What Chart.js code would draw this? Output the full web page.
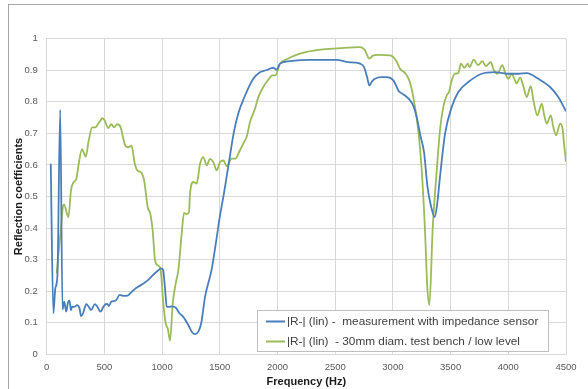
<!DOCTYPE html>
<html>
<head>
<meta charset="utf-8">
<script src="https://cdn.jsdelivr.net/npm/chart.js@4.4.1/dist/chart.umd.min.js"></script>
<style>
  body { margin: 0; background: #fff; }
  canvas { display: block; }
</style>
</head>
<body>
<canvas id="chart" width="588" height="389"></canvas>
<script>
// frequency (Hz) / |R-|
var sensorFreq = [35, 58, 75, 93, 117, 137, 152, 169, 185, 198, 210, 219, 240, 262, 285, 297, 315, 344, 365, 385, 417, 440, 466, 490, 510, 525, 539, 560, 598, 633, 665, 700, 743, 775, 802, 845, 880, 918, 960, 990, 1008, 1025, 1040, 1060, 1085, 1120, 1150, 1180, 1227, 1260, 1285, 1314, 1340, 1372, 1430, 1473, 1502, 1536, 1580, 1620, 1660, 1719, 1790, 1848, 1900, 1964, 1990, 2022, 2108, 2200, 2282, 2397, 2513, 2614, 2680, 2715, 2750, 2775, 2796, 2820, 2845, 2900, 2946, 3004, 3030, 3047, 3080, 3105, 3148, 3180, 3206, 3240, 3270, 3300, 3330, 3362, 3385, 3408, 3452, 3510, 3567, 3654, 3770, 3885, 3986, 4087, 4160, 4260, 4362, 4433, 4500];
var sensorR = [0.604, 0.13, 0.21, 0.25, 0.775, 0.142, 0.167, 0.135, 0.165, 0.17, 0.14, 0.15, 0.15, 0.156, 0.145, 0.121, 0.13, 0.159, 0.15, 0.14, 0.159, 0.15, 0.135, 0.15, 0.159, 0.16, 0.153, 0.167, 0.17, 0.188, 0.185, 0.186, 0.2, 0.21, 0.216, 0.226, 0.236, 0.25, 0.264, 0.272, 0.268, 0.21, 0.152, 0.15, 0.152, 0.147, 0.13, 0.12, 0.093, 0.07, 0.064, 0.072, 0.1, 0.182, 0.27, 0.37, 0.44, 0.51, 0.61, 0.7, 0.763, 0.82, 0.873, 0.894, 0.9, 0.908, 0.902, 0.921, 0.929, 0.932, 0.933, 0.933, 0.933, 0.926, 0.924, 0.921, 0.91, 0.88, 0.852, 0.865, 0.873, 0.878, 0.878, 0.868, 0.85, 0.836, 0.826, 0.82, 0.805, 0.785, 0.752, 0.69, 0.64, 0.53, 0.47, 0.435, 0.48, 0.562, 0.699, 0.784, 0.831, 0.863, 0.889, 0.894, 0.889, 0.889, 0.891, 0.873, 0.847, 0.815, 0.77];

var benchFreq = [87, 105, 122, 140, 152, 165, 180, 189, 210, 233, 257, 277, 306, 320, 338, 364, 394, 423, 443, 465, 481, 501, 533, 560, 583, 612, 641, 660, 676, 705, 735, 764, 787, 816, 845, 875, 898, 918, 939, 962, 985, 1011, 1031, 1050, 1069, 1092, 1118, 1141, 1170, 1190, 1213, 1233, 1242, 1271, 1300, 1329, 1357, 1387, 1415, 1444, 1473, 1502, 1531, 1560, 1603, 1637, 1667, 1704, 1733, 1762, 1805, 1834, 1877, 1920, 1955, 1983, 2022, 2094, 2152, 2253, 2397, 2542, 2715, 2740, 2758, 2796, 2830, 2874, 2975, 3027, 3062, 3105, 3142, 3177, 3220, 3250, 3278, 3298, 3316, 3345, 3380, 3408, 3437, 3466, 3486, 3510, 3538, 3567, 3590, 3619, 3648, 3665, 3700, 3738, 3775, 3805, 3848, 3875, 3905, 3948, 3975, 4001, 4030, 4050, 4073, 4102, 4130, 4160, 4194, 4220, 4252, 4290, 4310, 4333, 4368, 4390, 4414, 4449, 4470, 4485, 4500];
var benchR = [0.256, 0.33, 0.393, 0.466, 0.475, 0.46, 0.44, 0.435, 0.519, 0.545, 0.556, 0.603, 0.65, 0.64, 0.626, 0.677, 0.719, 0.719, 0.729, 0.74, 0.748, 0.742, 0.717, 0.729, 0.719, 0.729, 0.719, 0.69, 0.666, 0.656, 0.661, 0.603, 0.582, 0.577, 0.55, 0.466, 0.445, 0.393, 0.298, 0.282, 0.272, 0.16, 0.098, 0.08, 0.043, 0.16, 0.225, 0.267, 0.383, 0.448, 0.444, 0.45, 0.509, 0.546, 0.541, 0.604, 0.625, 0.599, 0.619, 0.609, 0.583, 0.609, 0.614, 0.596, 0.62, 0.62, 0.641, 0.668, 0.689, 0.736, 0.778, 0.815, 0.847, 0.87, 0.884, 0.884, 0.921, 0.937, 0.947, 0.958, 0.966, 0.97, 0.973, 0.97, 0.963, 0.937, 0.947, 0.949, 0.947, 0.931, 0.905, 0.891, 0.868, 0.815, 0.71, 0.583, 0.393, 0.214, 0.156, 0.4, 0.583, 0.71, 0.784, 0.82, 0.831, 0.868, 0.889, 0.891, 0.921, 0.908, 0.921, 0.91, 0.934, 0.916, 0.929, 0.913, 0.926, 0.9, 0.889, 0.916, 0.89, 0.873, 0.889, 0.875, 0.858, 0.877, 0.85, 0.815, 0.85, 0.8, 0.757, 0.794, 0.76, 0.731, 0.757, 0.72, 0.694, 0.731, 0.715, 0.66, 0.61];

var seriesNames = ['|R-| (lin) -  measurement with impedance sensor', '|R-| (lin)  - 30mm diam. test bench / low level'];
var xTickLabels = ['0', '500', '1000', '1500', '2000', '2500', '3000', '3500', '4000', '4500'];
var yTickLabels = ['0', '0.1', '0.2', '0.3', '0.4', '0.5', '0.6', '0.7', '0.8', '0.9', '1'];

function points(xs, ys) {
    var out = [];
    for (var i = 0; i < xs.length; i++) out.push({x: xs[i], y: ys[i]});
    return out;
}

var frame = {
    id: 'frame',
    beforeDraw: function(chart) {
        var c = chart.ctx;
        c.save();
        c.fillStyle = '#fff';
        c.fillRect(0, 0, chart.width, chart.height);
        c.strokeStyle = '#a6a6a6';
        c.lineWidth = 1;
        c.strokeRect(8.5, 4.5, 700, 500);
        c.restore();
    }
};

// legend box sits inside the plot, lower right
var boxLegend = {
    id: 'boxLegend',
    afterDraw: function(chart) {
        var c = chart.ctx;
        var x = 257.5, y = 310.5, w = 291, h = 41;
        c.save();
        c.fillStyle = '#fff';
        c.fillRect(x, y, w, h);
        c.strokeStyle = '#bfbfbf';
        c.lineWidth = 1;
        c.strokeRect(x, y, w, h);
        c.font = '11.8px "Liberation Sans", Arial, sans-serif';
        c.textBaseline = 'middle';
        chart.data.datasets.forEach(function(ds, i) {
            var ly = 321.5 + i * 20;
            c.strokeStyle = ds.borderColor;
            c.lineWidth = 2;
            c.beginPath();
            c.moveTo(266, ly);
            c.lineTo(285, ly);
            c.stroke();
            c.fillStyle = '#404040';
            c.fillText(ds.label, 287, ly + 0.5);
        });
        c.restore();
    }
};

var tickFont = {family: '"Liberation Sans", Arial, sans-serif', size: 9.5};
var titleFont = {family: '"Liberation Sans", Arial, sans-serif', size: 11, weight: 'bold'};

new Chart(document.getElementById('chart'), {
    type: 'line',
    data: {
        datasets: [{
            label: seriesNames[0],
            data: points(sensorFreq, sensorR),
            borderColor: '#4a7ebb',
            borderWidth: 1.8,
            pointRadius: 0,
            cubicInterpolationMode: 'monotone'
        }, {
            label: seriesNames[1],
            data: points(benchFreq, benchR),
            borderColor: '#9bbb59',
            borderWidth: 1.8,
            pointRadius: 0,
            cubicInterpolationMode: 'monotone'
        }]
    },
    options: {
        responsive: false,
        animation: false,
        layout: {padding: {left: 0, right: 22, top: 38.7, bottom: 0}},
        plugins: {legend: {display: false}, tooltip: {enabled: false}},
        scales: {
            x: {
                type: 'linear', min: 0, max: 4500,
                grid: {color: '#d9d9d9', drawTicks: false},
                border: {color: '#d9d9d9'},
                ticks: {
                    stepSize: 500, padding: 7, color: '#595959', font: tickFont, maxRotation: 0,
                    callback: function(v) { return xTickLabels[Math.round(v / 500)]; }
                },
                title: {display: true, text: 'Frequency (Hz)', color: '#1a1a1a', font: titleFont, padding: {top: 0, bottom: 0}},
                afterFit: function(s) { s.height = 34.7; }
            },
            y: {
                min: 0, max: 1,
                grid: {color: '#d9d9d9', drawTicks: false},
                border: {color: '#d9d9d9'},
                ticks: {
                    stepSize: 0.1, padding: 9, color: '#595959', font: tickFont,
                    callback: function(v) { return yTickLabels[Math.round(v * 10)]; }
                },
                title: {display: true, text: 'Reflection coefficients', color: '#1a1a1a', font: titleFont, padding: {top: 12, bottom: 0}},
                afterFit: function(s) { s.width = 46.7; }
            }
        }
    },
    plugins: [frame, boxLegend]
});
</script>
</body>
</html>
